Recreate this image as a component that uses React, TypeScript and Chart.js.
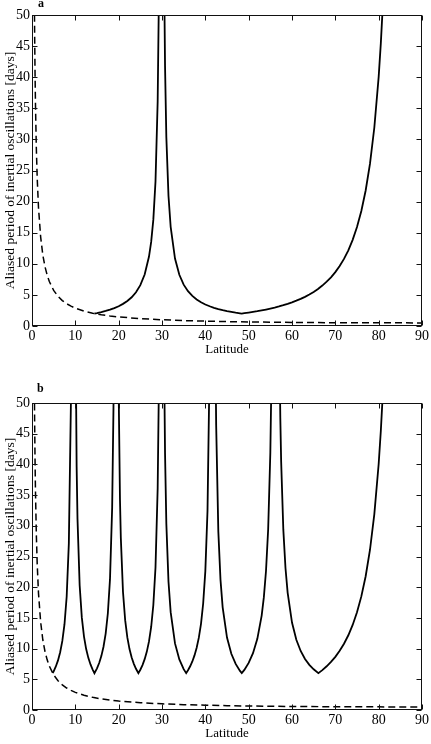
import React, { useEffect, useRef } from "react";
import { Chart, registerables } from "chart.js";

Chart.register(...registerables);

const FONT = "'Liberation Serif', 'Times New Roman', serif";

const xTitle = "Latitude";
const yTitle = "Aliased period of inertial oscillations [days]";
const xMin = 0;
const xMax = 90;
const xStep = 10;
const yMin = 0;
const yMax = 50;
const yStep = 5;

// Dashed curve: inertial period (days) vs latitude (same in both panels)
const inertialLat = [
  0.5, 0.6, 0.7, 0.8, 1, 1.2, 1.5, 2, 2.5, 3, 3.5, 4, 5, 6, 7, 8, 9, 10, 12, 14,
  16, 18, 20, 25, 30, 35, 40, 45, 50, 55, 60, 70, 80, 90,
];
const inertialPeriod = [
  57.1, 47.6, 40.8, 35.7, 28.6, 23.8, 19.0, 14.3, 11.4, 9.53, 8.17, 7.15, 5.72, 4.77, 4.09, 3.58, 3.19, 2.87, 2.40, 2.06,
  1.81, 1.61, 1.46, 1.18, 1.00, 0.87, 0.78, 0.71, 0.65, 0.61, 0.58, 0.53, 0.51, 0.50,
];

// Panel a: aliased period (solid)
const aliasALat = [
  14.41, 15, 16, 17, 18, 19, 20, 21, 22, 23, 24, 25, 26, 27, 27.5, 28, 28.5, 29, 29.3, 29.5,
  30.2, 30.5, 30.7, 31, 31.5, 32, 33, 34, 35, 36, 37, 38, 39, 40, 41, 42, 43, 44, 45, 46, 47, 48, 48.41,
  49, 50, 51, 52, 53, 54, 55, 56, 57, 58, 59, 60, 61, 62, 63, 64, 65, 66, 67, 68, 69, 70, 71, 72, 73, 74, 75, 76, 77, 78, 79, 80,
  80.5, 81, 82,
];
const aliasAPeriod = [
  2.00, 2.08, 2.24, 2.42, 2.63, 2.88, 3.18, 3.56, 4.02, 4.62, 5.43, 6.56, 8.28, 11.17, 13.52, 17.10, 23.22, 36.09, 53.9, 80.3,
  113.5, 55.96, 41.86, 30.39, 20.89, 15.94, 10.84, 8.23, 6.65, 5.59, 4.83, 4.26, 3.82, 3.46, 3.17, 2.92, 2.72, 2.54, 2.39, 2.26, 2.14, 2.04, 2.00,
  2.06, 2.16, 2.27, 2.38, 2.51, 2.65, 2.80, 2.96, 3.14, 3.34, 3.56, 3.80, 4.07, 4.36, 4.69, 5.06, 5.48, 5.96, 6.50, 7.12, 7.83, 8.66, 9.64, 10.79, 12.17, 13.85, 15.92, 18.50, 21.79, 26.10, 31.91, 40.06,
  45.48, 52.11, 71.4,
];

// Panel b: aliased period (solid)
const aliasBLat = [
  4.77, 5, 5.5, 6, 6.5, 7, 7.5, 8, 8.5, 9, 9.3,
  9.8, 10, 10.3, 10.5, 11, 11.5, 12, 12.5, 13, 13.5, 14, 14.41,
  15, 15.5, 16, 16.5, 17, 17.5, 18, 18.5, 18.8, 19,
  19.8, 20, 20.3, 20.5, 21, 21.5, 22, 22.5, 23, 23.5, 24, 24.55,
  25, 25.5, 26, 26.5, 27, 27.5, 28, 28.5, 29, 29.3,
  30.5, 30.7, 31, 31.5, 32, 33, 34, 35, 35.58,
  36, 36.5, 37, 37.5, 38, 38.5, 39, 39.5, 40, 40.5, 41,
  42, 42.3, 42.5, 43, 43.5, 44, 45, 46, 47, 48, 48.41,
  49, 50, 51, 52, 53, 53.5, 54, 54.5, 55, 55.3,
  57, 57.3, 57.5, 58, 58.5, 59, 60, 61, 62, 63, 64, 65, 66.09,
  67, 68, 69, 70, 71, 72, 73, 74, 75, 76, 77, 78, 79, 80, 80.5, 81, 82,
];
const aliasBPeriod = [
  6.00, 6.31, 7.09, 8.08, 9.41, 11.25, 13.97, 18.44, 27.10, 51.0, 108,
  124.7, 67.0, 39.6, 31.1, 20.27, 15.04, 11.96, 9.93, 8.49, 7.42, 6.59, 6.00,
  6.78, 7.65, 8.78, 10.30, 12.45, 15.72, 21.31, 33.0, 49.1, 72.8,
  78.9, 51.9, 34.35, 28.03, 19.22, 14.63, 11.82, 9.92, 8.55, 7.52, 6.71, 6.00,
  6.56, 7.32, 8.28, 9.51, 11.17, 13.52, 17.10, 23.22, 36.09, 53.9,
  55.96, 41.86, 30.39, 20.89, 15.94, 10.84, 8.23, 6.65, 6.00,
  6.47, 7.12, 7.91, 8.89, 10.14, 11.78, 14.04, 17.34, 22.62, 32.40, 56.8,
  116, 61.0, 46.36, 29.05, 21.20, 16.72, 11.80, 9.15, 7.50, 6.37, 6.00,
  6.53, 7.67, 9.25, 11.59, 15.38, 18.34, 22.63, 29.45, 41.91, 56.0,
  65.4, 47.66, 40.40, 29.33, 23.09, 19.09, 14.25, 11.44, 9.61, 8.32, 7.36, 6.63, 6.00,
  6.50, 7.12, 7.83, 8.66, 9.64, 10.79, 12.17, 13.85, 15.92, 18.50, 21.79, 26.10, 31.91, 40.06, 45.48, 52.11, 71.4,
];

const zip = (xs: number[], ys: number[]) => xs.map((x, i) => ({ x, y: ys[i] }));

const boxTicksPlugin = {
  id: "boxTicks",
  afterDatasetsDraw(chart: any) {
    const { ctx, chartArea, scales } = chart;
    const L = Math.round(chartArea.left) + 0.5;
    const R = Math.round(chartArea.right) - 0.5;
    const T = Math.round(chartArea.top) + 0.5;
    const B = Math.round(chartArea.bottom) - 0.5;
    const len = 5;
    ctx.save();
    ctx.strokeStyle = "#111";
    ctx.lineWidth = 1;
    ctx.setLineDash([]);
    ctx.strokeRect(L, T, R - L, B - T);
    ctx.beginPath();
    scales.x.ticks.forEach((t: any) => {
      const px = Math.round(scales.x.getPixelForValue(t.value)) + 0.5;
      ctx.moveTo(px, B);
      ctx.lineTo(px, B - len);
      ctx.moveTo(px, T);
      ctx.lineTo(px, T + len);
    });
    scales.y.ticks.forEach((t: any) => {
      const py = Math.round(scales.y.getPixelForValue(t.value)) + 0.5;
      ctx.moveTo(L, py);
      ctx.lineTo(L + len, py);
      ctx.moveTo(R, py);
      ctx.lineTo(R - len, py);
    });
    ctx.stroke();
    ctx.restore();
  },
};

function Panel({
  lat,
  period,
  top,
  padTop,
}: {
  lat: number[];
  period: number[];
  top: number;
  padTop: number;
}) {
  const ref = useRef<HTMLCanvasElement | null>(null);
  useEffect(() => {
    if (!ref.current) return;
    const chart = new Chart(ref.current, {
      type: "line",
      data: {
        datasets: [
          {
            data: zip(inertialLat, inertialPeriod),
            borderColor: "#000",
            borderWidth: 1.5,
            borderDash: [7, 4],
            pointRadius: 0,
            tension: 0,
            fill: false,
          },
          {
            data: zip(lat, period),
            borderColor: "#000",
            borderWidth: 1.8,
            pointRadius: 0,
            tension: 0,
            fill: false,
          },
        ],
      },
      options: {
        responsive: false,
        animation: false,
        devicePixelRatio: 1,
        layout: { padding: { top: padTop, right: 8, bottom: 3, left: 0 } },
        plugins: { legend: { display: false }, tooltip: { enabled: false }, title: { display: false } },
        scales: {
          x: {
            type: "linear",
            min: xMin,
            max: xMax,
            grid: { display: false, drawTicks: false },
            border: { display: false },
            ticks: {
              stepSize: xStep,
              color: "#000",
              font: { family: FONT, size: 14 },
              padding: 2,
              maxRotation: 0,
              autoSkip: false,
            },
            title: {
              display: true,
              text: xTitle,
              color: "#000",
              font: { family: FONT, size: 13 },
              padding: { top: 0, bottom: 0 },
            },
            afterFit: (s: any) => {
              s.height = 31;
            },
          },
          y: {
            type: "linear",
            min: yMin,
            max: yMax,
            grid: { display: false, drawTicks: false },
            border: { display: false },
            ticks: {
              stepSize: yStep,
              color: "#000",
              font: { family: FONT, size: 14 },
              padding: 2,
              autoSkip: false,
            },
            title: {
              display: true,
              text: yTitle,
              color: "#000",
              font: { family: FONT, size: 13.5 },
              padding: { top: 2, bottom: 0 },
            },
            afterFit: (s: any) => {
              s.width = 32;
            },
          },
        },
      },
      plugins: [boxTicksPlugin],
    } as any);
    return () => chart.destroy();
  }, []);
  return (
    <canvas
      ref={ref}
      width={431}
      height={360}
      style={{ position: "absolute", left: 0, top, width: 431, height: 360 }}
    />
  );
}

const letterStyle: React.CSSProperties = {
  position: "absolute",
  fontFamily: FONT,
  fontWeight: "bold",
  fontSize: 12,
  lineHeight: "12px",
  color: "#000",
};

export default function App() {
  return (
    <div
      style={{
        position: "fixed",
        left: 0,
        top: 0,
        width: 431,
        height: 744,
        background: "#fff",
        overflow: "hidden",
      }}
    >
      <Panel lat={aliasALat} period={aliasAPeriod} top={0} padTop={15} />
      <Panel lat={aliasBLat} period={aliasBPeriod} top={384} padTop={19} />
      <div style={{ ...letterStyle, left: 38, top: -3 }}>a</div>
      <div style={{ ...letterStyle, left: 37, top: 382 }}>b</div>
    </div>
  );
}
